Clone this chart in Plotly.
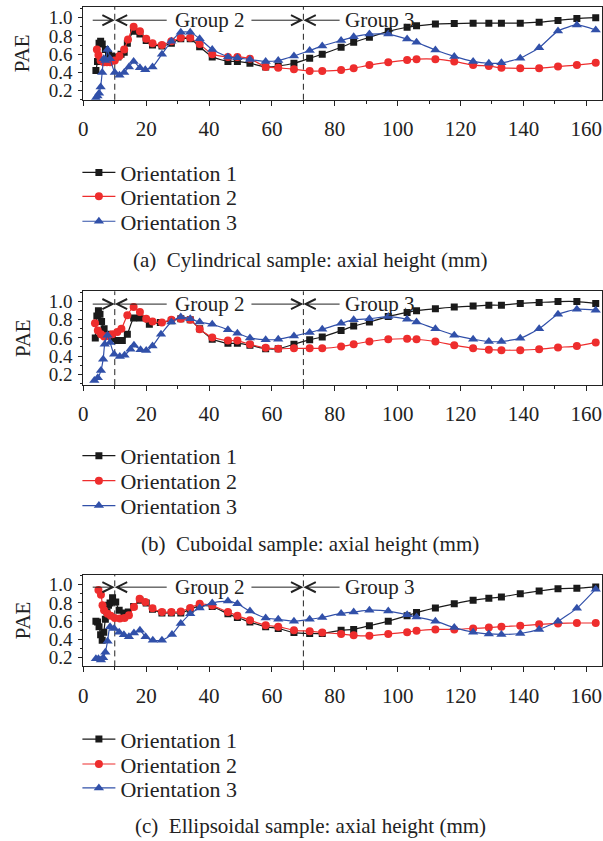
import plotly.graph_objects as go

# ---------------- (a) Cylindrical sample ----------------
A_X1 = [4, 4.5, 5, 5.5, 6, 7, 8, 9, 10, 11, 12, 13, 14, 16, 18, 20, 22, 25, 28, 31,
        34, 37, 41, 46, 49, 53, 58, 62, 67, 72, 76, 82, 86, 91, 97, 103, 106, 112, 118, 124,
        129, 133, 139, 145, 151, 157, 163]
A_Y1 = [0.42, 0.52, 0.72, 0.74, 0.71, 0.65, 0.60, 0.58, 0.56, 0.57, 0.60, 0.62, 0.72, 0.85, 0.82, 0.75, 0.70, 0.69, 0.72, 0.77,
        0.77, 0.68, 0.57, 0.52, 0.52, 0.50, 0.46, 0.47, 0.50, 0.555, 0.60, 0.675, 0.73, 0.785, 0.85, 0.895, 0.91, 0.93, 0.935, 0.94,
        0.94, 0.94, 0.94, 0.95, 0.97, 0.99, 1.0]
A_X2 = [4.3, 4.8, 5.5, 6.5, 7.5, 8.5, 10, 11.5, 13, 14.2, 16, 18, 20, 22, 25, 28, 31, 34, 37, 41,
        46, 49, 53, 58, 62, 67, 72, 76, 82, 86, 91, 97, 103, 106, 112, 118, 124, 129, 133, 139,
        145, 151, 157, 163]
A_Y2 = [0.65, 0.59, 0.53, 0.51, 0.51, 0.51, 0.53, 0.58, 0.65, 0.76, 0.90, 0.85, 0.77, 0.72, 0.70, 0.74, 0.78, 0.78, 0.71, 0.60,
        0.57, 0.57, 0.55, 0.46, 0.45, 0.435, 0.415, 0.415, 0.425, 0.445, 0.48, 0.51, 0.535, 0.545, 0.545, 0.52, 0.48, 0.47, 0.45, 0.445,
        0.445, 0.465, 0.48, 0.505]
A_X3 = [4, 4.5, 5, 5.5, 6, 6.5, 7, 7.7, 8.5, 10, 11.5, 13, 14.5, 16, 18, 19.7, 22, 25, 28, 31,
        34, 37, 41, 46, 49, 53, 58, 62, 67, 72, 76, 82, 86, 91, 97, 103, 106, 112, 118, 124,
        129, 133, 139, 145, 151, 157, 163]
A_Y3 = [0.12, 0.14, 0.17, 0.24, 0.40, 0.55, 0.53, 0.65, 0.55, 0.40, 0.37, 0.40, 0.46, 0.52, 0.45, 0.43, 0.46, 0.60, 0.74, 0.84,
        0.84, 0.77, 0.65, 0.57, 0.56, 0.54, 0.52, 0.53, 0.58, 0.64, 0.69, 0.75, 0.79, 0.82, 0.82, 0.765, 0.73, 0.645, 0.575, 0.52,
        0.50, 0.505, 0.555, 0.67, 0.855, 0.92, 0.865]

# ---------------- (b) Cuboidal sample ----------------
B_X1 = [3.8, 4.3, 4.8, 5.3, 5.8, 6.6, 7.7, 9.2, 10.8, 12.4, 14, 16, 18, 21, 24.5, 28, 31, 34, 37, 41,
        46, 49, 53, 58, 62, 67, 72, 76, 82, 86, 91, 97, 103, 106, 112, 118, 124, 129, 133, 139,
        145, 151, 157, 163]
B_Y1 = [0.60, 0.84, 0.90, 0.86, 0.78, 0.70, 0.64, 0.59, 0.57, 0.57, 0.64, 0.82, 0.82, 0.75, 0.77, 0.79, 0.81, 0.80, 0.70, 0.585,
        0.54, 0.54, 0.52, 0.48, 0.48, 0.53, 0.58, 0.61, 0.68, 0.73, 0.775, 0.835, 0.88, 0.90, 0.92, 0.94, 0.95, 0.96, 0.96, 0.98,
        0.99, 1.0, 1.0, 0.98]
B_X2 = [3.7, 4.6, 5.6, 6.6, 7.7, 9.2, 10.8, 12.1, 14, 16, 18, 20, 22, 25, 28, 31, 34, 37, 41, 46,
        49, 53, 58, 62, 67, 72, 76, 82, 86, 91, 97, 103, 106, 112, 118, 124, 129, 133, 139, 145,
        151, 157, 163]
B_Y2 = [0.76, 0.68, 0.64, 0.615, 0.62, 0.64, 0.665, 0.70, 0.85, 0.94, 0.885, 0.81, 0.78, 0.77, 0.80, 0.81, 0.80, 0.695, 0.605, 0.57,
        0.57, 0.53, 0.49, 0.48, 0.485, 0.485, 0.485, 0.505, 0.53, 0.56, 0.585, 0.59, 0.585, 0.56, 0.52, 0.485, 0.47, 0.465, 0.465, 0.475,
        0.495, 0.51, 0.55]
B_X3 = [3.5, 4.6, 5.6, 6.3, 6.8, 7.7, 8.5, 9.8, 11.6, 13.1, 15, 16.1, 18.2, 20, 22, 24.7, 28, 31, 34, 37,
        41, 46, 49, 53, 58, 62, 67, 72, 76, 82, 86, 91, 97, 103, 106, 112, 118, 124, 129, 133,
        139, 145, 151, 157, 163]
B_Y3 = [0.13, 0.16, 0.24, 0.365, 0.53, 0.63, 0.55, 0.42, 0.395, 0.41, 0.475, 0.52, 0.47, 0.46, 0.51, 0.64, 0.775, 0.83, 0.81, 0.775,
        0.75, 0.69, 0.65, 0.60, 0.58, 0.585, 0.62, 0.66, 0.695, 0.76, 0.80, 0.81, 0.835, 0.805, 0.775, 0.70, 0.63, 0.585, 0.56, 0.56,
        0.595, 0.70, 0.86, 0.915, 0.905]

# ---------------- (c) Ellipsoidal sample ----------------
C_X1 = [4, 4.5, 5, 5.5, 6, 6.5, 7, 7.5, 8, 8.5, 9.3, 10.3, 11.4, 12.9, 14.3, 16, 18, 20, 22, 25,
        28, 31, 34, 37, 41, 46, 49, 53, 58, 62, 67, 72, 76, 82, 86, 91, 97, 103, 106, 112,
        118, 124, 129, 133, 139, 145, 151, 157, 163]
C_Y1 = [0.60, 0.59, 0.54, 0.45, 0.39, 0.48, 0.62, 0.70, 0.775, 0.80, 0.855, 0.81, 0.72, 0.69, 0.70, 0.76, 0.83, 0.80, 0.73, 0.69,
        0.69, 0.69, 0.73, 0.77, 0.76, 0.68, 0.64, 0.59, 0.54, 0.52, 0.475, 0.465, 0.465, 0.50, 0.51, 0.55, 0.60, 0.66, 0.695, 0.745,
        0.79, 0.83, 0.85, 0.865, 0.90, 0.93, 0.955, 0.96, 0.975]
C_X2 = [4.8, 5.6, 6.1, 6.6, 7.7, 8.7, 10, 11.6, 13.1, 14.5, 16.1, 17.9, 19.7, 22, 25, 28, 31, 34, 37, 41,
        46, 49, 53, 58, 62, 67, 72, 76, 82, 86, 91, 97, 103, 106, 112, 118, 124, 129, 133, 139,
        145, 151, 157, 163]
C_Y2 = [0.94, 0.89, 0.775, 0.72, 0.68, 0.66, 0.635, 0.63, 0.635, 0.665, 0.755, 0.845, 0.81, 0.74, 0.70, 0.70, 0.705, 0.745, 0.79, 0.77,
        0.70, 0.66, 0.61, 0.555, 0.54, 0.50, 0.49, 0.475, 0.46, 0.445, 0.44, 0.46, 0.48, 0.495, 0.51, 0.51, 0.52, 0.53, 0.54, 0.55,
        0.565, 0.575, 0.58, 0.58]
C_X3 = [4, 4.8, 5.6, 6.3, 7, 7.7, 8.5, 9.8, 11.4, 12.9, 14.5, 16.1, 18, 19.8, 22.1, 25, 28.2, 31, 34, 37,
        41, 46, 49, 53, 58, 62, 67, 72, 76, 82, 86, 91, 97, 103, 106, 112, 118, 124, 129, 133,
        139, 145, 151, 157, 163]
C_Y3 = [0.19, 0.19, 0.175, 0.20, 0.26, 0.38, 0.54, 0.52, 0.48, 0.45, 0.43, 0.47, 0.50, 0.43, 0.39, 0.39, 0.455, 0.575, 0.68, 0.745,
        0.80, 0.82, 0.79, 0.71, 0.635, 0.62, 0.60, 0.62, 0.64, 0.685, 0.70, 0.72, 0.71, 0.67, 0.645, 0.60, 0.53, 0.48, 0.46, 0.455,
        0.465, 0.51, 0.60, 0.74, 0.95]

SERIES_NAMES = ["Orientation 1", "Orientation 2", "Orientation 3"]
CAPTIONS = [
    "(a)\u2002Cylindrical sample: axial height (mm)",
    "(b)\u2002Cuboidal sample: axial height (mm)",
    "(c)\u2002Ellipsoidal sample: axial height (mm)",
]
GROUP_BOUNDS = [10, 70]

W, H = 603, 841
FONT = "Liberation Serif, Times New Roman, serif"
INK = "#222222"
STYLES = [("#1a1a1a", "square", 7), ("#ee2d2d", "circle", 8), ("#3150a9", "triangle-up", 9)]

# pixel geometry of each panel: plot top/bottom, y range, legend row centres, caption centre
PANELS = [
    dict(top=7, bottom=100, yr=[0.10, 1.117], rows=[173, 197, 222], cap=261,
         data=[(A_X1, A_Y1), (A_X2, A_Y2), (A_X3, A_Y3)]),
    dict(top=292, bottom=386, yr=[0.08, 1.113], rows=[457, 482, 507], cap=545,
         data=[(B_X1, B_Y1), (B_X2, B_Y2), (B_X3, B_Y3)]),
    dict(top=576, bottom=668, yr=[0.105, 1.109], rows=[741, 766, 790], cap=828,
         data=[(C_X1, C_Y1), (C_X2, C_Y2), (C_X3, C_Y3)]),
]
PLOT_LEFT, PLOT_RIGHT = 79, 602
XTICK_SIZE = 21
YTICK_SIZE = 19

fig = go.Figure()
layout = dict(
    width=W, height=H, margin=dict(l=0, r=0, t=0, b=0),
    paper_bgcolor="white", plot_bgcolor="white",
    font=dict(family=FONT, color=INK, size=XTICK_SIZE),
    showlegend=True,
)
annotations = []
shapes = []

leg_idx = 0
for i, p in enumerate(PANELS):
    n = "" if i == 0 else str(i + 1)
    xr, yr_ = "x" + n, "y" + n
    for name, (color, sym, size), (xs, ys), row in zip(SERIES_NAMES, STYLES, p["data"], p["rows"]):
        leg_idx += 1
        leg = "legend" if leg_idx == 1 else f"legend{leg_idx}"
        fig.add_trace(go.Scatter(
            x=xs, y=ys, name=name, mode="lines+markers",
            line=dict(color=color, width=1.2, shape="spline", smoothing=0.5),
            marker=dict(symbol=sym, size=size, color=color),
            xaxis=xr, yaxis=yr_, legend=leg,
        ))
        # one legend box per entry so each row sits at its own height
        layout[leg] = dict(
            x=73 / W, y=1 - row / H, xanchor="left", yanchor="middle",
            font=dict(family=FONT, size=22, color=INK), bgcolor="rgba(0,0,0,0)",
            itemwidth=33, borderwidth=0,
        )

    axis_common = dict(
        showline=True, mirror=True, linecolor=INK, linewidth=1,
        showgrid=False, zeroline=False, ticks="outside", tickwidth=1,
        tickcolor=INK,
    )
    layout["xaxis" + n] = dict(
        axis_common, domain=[PLOT_LEFT / W, PLOT_RIGHT / W], range=[0, 165],
        anchor=yr_, tick0=0, dtick=20, ticklen=5, ticklabelstandoff=5,
        tickfont=dict(family=FONT, size=XTICK_SIZE, color=INK),
        minor=dict(dtick=10, ticks="outside", ticklen=3, tickcolor=INK),
    )
    layout["yaxis" + n] = dict(
        axis_common, domain=[1 - p["bottom"] / H, 1 - p["top"] / H], range=p["yr"],
        anchor=xr, tick0=0, dtick=0.2, tickformat=".1f", ticklen=4, ticklabelstandoff=2,
        tickfont=dict(family=FONT, size=YTICK_SIZE, color=INK),
        minor=dict(dtick=0.1, ticks="outside", ticklen=2.5, tickcolor=INK),
    )

    # y-axis title
    annotations.append(dict(
        text="PAE", textangle=-90, xref="paper", yref="paper",
        x=18 / W, y=1 - (p["top"] + p["bottom"]) / 2 / H, showarrow=False,
        xanchor="center", yanchor="middle",
        font=dict(family=FONT, size=21, color=INK),
    ))
    # caption
    annotations.append(dict(
        text=CAPTIONS[i], xref="paper", yref="paper", x=308 / W, y=1 - p["cap"] / H,
        xanchor="center", yanchor="middle", showarrow=False,
        font=dict(family=FONT, size=21, color=INK),
    ))

    # dashed group boundaries
    for gb in GROUP_BOUNDS:
        shapes.append(dict(type="line", xref=xr, yref=yr_ + " domain", x0=gb, x1=gb, y0=0, y1=1,
                           line=dict(color=INK, width=1, dash="6px,4px"), layer="below"))

    # group arrows and labels
    ya = 0.972
    arrow = dict(xref=xr, yref=yr_, axref=xr, ayref=yr_, text="", showarrow=True,
                 arrowhead=5, arrowsize=2, arrowwidth=1, arrowcolor=INK,
                 standoff=0, startstandoff=0)
    for head, tail in [(10, 2.5), (10, 27), (70, 53), (70, 82)]:
        annotations.append(dict(arrow, x=head, y=ya, ax=tail, ay=ya))
    for label, gx in [("Group 2", 40), ("Group 3", 94.3)]:
        annotations.append(dict(text=label, xref=xr, yref=yr_, x=gx, y=ya, showarrow=False,
                                font=dict(family=FONT, size=21, color=INK),
                                xanchor="center", yanchor="middle"))

layout["annotations"] = annotations
layout["shapes"] = shapes
fig.update_layout(**layout)
fig.write_html("out.html")
